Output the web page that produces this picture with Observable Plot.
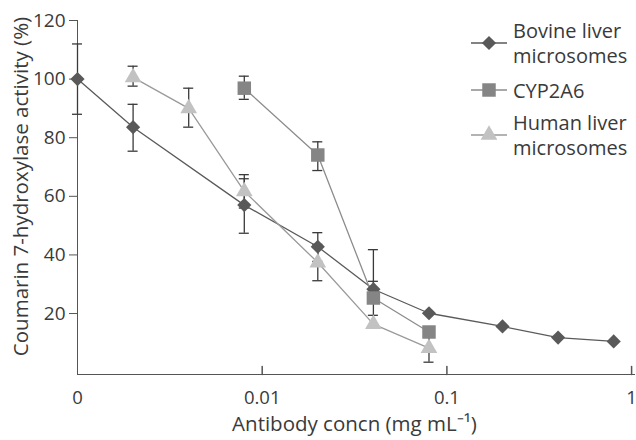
<!DOCTYPE html>
<html><head><meta charset="utf-8">
<script src="https://cdn.jsdelivr.net/npm/d3@7"></script>
<script src="https://cdn.jsdelivr.net/npm/@observablehq/plot@0.6"></script>
<style>
body{margin:0;background:#fff;}
#wrap{position:relative;width:636px;height:440px;font-family:"Open Sans",sans-serif;color:#3a3a3a;}
.leg{position:absolute;left:470px;display:flex;align-items:center;font-size:20px;line-height:25px;white-space:nowrap;}
.leg svg{margin-right:5px;flex:none;}
</style></head><body>
<div id="wrap"><div id="chart"></div></div>
<script>
// ---- data ----
const seriesNames = ["Bovine liver microsomes", "CYP2A6", "Human liver microsomes"];
const legendLines = [["Bovine liver", "microsomes"], ["CYP2A6"], ["Human liver", "microsomes"]];
const xTickValues = [0, 0.01, 0.1, 1];
const yTickValues = [20, 40, 60, 80, 100, 120];
const xTitle = "Antibody concn (mg mL⁻¹)";
const yTitle = "Coumarin 7-hydroxylase activity (%)";

const bovineX  = [0, 0.002, 0.008, 0.02, 0.04, 0.08, 0.2, 0.4, 0.8];
const bovineY  = [100, 83.6, 57.0, 42.8, 28.3, 20.1, 15.6, 11.8, 10.5];
const bovineLo = [88, 75.4, 47.4, 37.8, 28.3, null, null, null, null];
const bovineHi = [112, 91.4, 66.0, 47.6, 41.8, null, null, null, null];

const cypX  = [0.008, 0.02, 0.04, 0.08];
const cypY  = [96.9, 74.1, 25.3, 13.7];
const cypLo = [93.1, 68.8, 19.4, null];
const cypHi = [101.0, 78.6, 31.0, null];

const humanX  = [0.002, 0.004, 0.008, 0.02, 0.04, 0.08];
const humanY  = [100.6, 90.0, 61.7, 37.4, 16.4, 8.2];
const humanLo = [97.6, 83.6, 56.0, 31.2, null, 3.4];
const humanHi = [104.4, 96.9, 67.4, 43.6, null, 13.0];

// ---- styling ----
const ZERO_POS = 0.001;          // where "0" sits on the broken log axis
const symbols = ["diamond2", "square", "triangle"];
const fills = ["#595959", "#858585", "#c2c2c2"];
const strokes = ["#5a5a5a", "#8c8c8c", "#9a9a9a"];
const radii = [6.4, 7.6, 6.2];
const ink = "#3a3a3a";

function rows(k, xs, ys, lo, hi) {
  return xs.map((x, i) => ({series: seriesNames[k], k, x: x === 0 ? ZERO_POS : x, y: ys[i], lo: lo[i], hi: hi[i]}));
}
const all = [
  rows(0, bovineX, bovineY, bovineLo, bovineHi),
  rows(1, cypX, cypY, cypLo, cypHi),
  rows(2, humanX, humanY, humanLo, humanHi)
];
const errs = all.flat().filter(d => d.lo != null);
const caps = errs.flatMap(d => [{x: d.x, y: d.lo}, {x: d.x, y: d.hi}]);
const capF = Math.pow(10, 5 / 184);

const tickShape = {draw(ctx, l) { ctx.moveTo(0, 0); ctx.lineTo(0, l); }};

const chart = Plot.plot({
  width: 636, height: 440,
  marginLeft: 77, marginRight: 1, marginTop: 20, marginBottom: 66,
  style: {fontFamily: "'Open Sans', sans-serif", fontSize: "19px", color: ink, background: "white", overflow: "visible"},
  x: {type: "log", domain: [ZERO_POS, 1.05]},
  y: {domain: [-0.8, 120]},
  marks: [
    Plot.axisY({ticks: yTickValues, tickSize: 8, tickPadding: 4, stroke: "#555", fill: ink, fontSize: 19, label: null}),
    Plot.text([yTitle], {frameAnchor: "left", rotate: -90, dx: -64, dy: -11, lineAnchor: "top", textAnchor: "middle", fontSize: 20.5, fill: ink}),
    Plot.axisX({ticks: xTickValues.map(v => v === 0 ? ZERO_POS : v), tickSize: 0, tickPadding: 16, fill: ink, fontSize: 18.5,
      tickFormat: d => d === ZERO_POS ? "0" : String(d), label: null}),
    Plot.text([xTitle], {frameAnchor: "bottom", dx: -2, dy: 56, lineAnchor: "bottom", textAnchor: "middle", fontSize: 20.5, fill: ink}),
    Plot.vector(xTickValues.slice(1), {x: d => d, y: -0.8, length: 8, rotate: 180, anchor: "start", shape: tickShape, stroke: "#555"}),
    Plot.ruleX([ZERO_POS], {stroke: "#555"}),
    Plot.ruleY([-0.8], {stroke: "#555"}),
    // error bars
    Plot.ruleX(errs, {x: "x", y1: "lo", y2: "hi", stroke: ink, strokeWidth: 1.3}),
    Plot.ruleY(caps, {y: "y", x1: d => d.x / capF, x2: d => d.x * capF, stroke: ink, strokeWidth: 1.3}),
    // lines and markers
    ...all.map((s, k) => Plot.line(s, {x: "x", y: "y", stroke: strokes[k], strokeWidth: 1.3})),
    ...all.map((s, k) => Plot.dot(s, {x: "x", y: "y", symbol: () => symbols[k], r: radii[k], fill: fills[k], stroke: "none"}))
  ]
});
const wrap = document.getElementById("wrap");
document.getElementById("chart").appendChild(chart);

const legTops = [18, 77.5, 110];
legendLines.forEach((lines, k) => {
  const div = document.createElement("div");
  div.className = "leg";
  div.style.top = legTops[k] + "px";
  const sym = d3.symbol().type({diamond2: d3.symbolDiamond2, square: d3.symbolSquare, triangle: d3.symbolTriangle}[symbols[k]]).size(Math.PI * radii[k] * radii[k])();
  div.innerHTML = `<svg width="38" height="20" viewBox="-19 -10 38 20"><line x1="-18" x2="18" stroke="${strokes[k]}" stroke-width="1.3"/><path d="${sym}" fill="${fills[k]}"/></svg><div>${lines.join("<br>")}</div>`;
  wrap.appendChild(div);
});
</script>
</body></html>
